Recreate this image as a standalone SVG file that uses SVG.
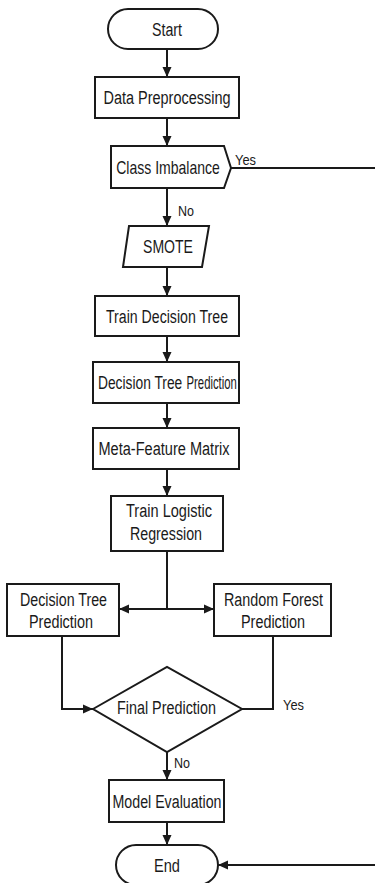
<svg xmlns="http://www.w3.org/2000/svg" width="375" height="883" viewBox="0 0 375 883">
<style>
.s{fill:#fff;stroke:#1a1a1a;stroke-width:2}
.t{font-family:"Liberation Sans",Arial,sans-serif;font-size:18px;fill:#1a1a1a;text-anchor:middle}
.ts{font-family:"Liberation Sans",Arial,sans-serif;font-size:18px;fill:#1a1a1a}
.l{font-family:"Liberation Sans",Arial,sans-serif;font-size:15px;fill:#1a1a1a}
.c{fill:none;stroke:#1a1a1a;stroke-width:2}
</style>
<defs>
<marker id="a" markerUnits="userSpaceOnUse" markerWidth="10" markerHeight="10" viewBox="0 0 10 10" refX="10" refY="5" orient="auto-start-reverse">
<path d="M0,0.5 L10,5 L0,9.5 Z" fill="#1a1a1a"/>
</marker>
</defs>
<rect width="375" height="883" fill="#fff"/>
<g id="connectors">
<line class="c" x1="167" y1="49" x2="167" y2="77" marker-end="url(#a)"/>
<line class="c" x1="167" y1="118" x2="167" y2="146" marker-end="url(#a)"/>
<line class="c" x1="167" y1="188" x2="167" y2="226" marker-end="url(#a)"/>
<line class="c" x1="167" y1="267" x2="167" y2="296" marker-end="url(#a)"/>
<line class="c" x1="167" y1="336" x2="167" y2="362" marker-end="url(#a)"/>
<line class="c" x1="167" y1="403" x2="167" y2="428" marker-end="url(#a)"/>
<line class="c" x1="167" y1="469" x2="167" y2="496" marker-end="url(#a)"/>
<line class="c" x1="167" y1="551" x2="167" y2="609"/>
<line class="c" x1="119" y1="609" x2="214" y2="609" marker-start="url(#a)" marker-end="url(#a)"/>
<polyline class="c" points="62,636 62,709 93,709" marker-end="url(#a)"/>
<polyline class="c" points="273,636 273,709 242,709"/>
<line class="c" x1="167" y1="752" x2="167" y2="780" marker-end="url(#a)"/>
<line class="c" x1="167" y1="822" x2="167" y2="845" marker-end="url(#a)"/>
<line class="c" x1="231" y1="168" x2="375" y2="168"/>
<line class="c" x1="375" y1="865" x2="218" y2="865" marker-end="url(#a)"/>
<text class="l" x="235" y="165" textLength="21" lengthAdjust="spacingAndGlyphs">Yes</text>
<text class="l" x="178" y="216" textLength="16" lengthAdjust="spacingAndGlyphs">No</text>
<text class="l" x="283" y="710" textLength="21" lengthAdjust="spacingAndGlyphs">Yes</text>
<text class="l" x="174" y="768" textLength="16" lengthAdjust="spacingAndGlyphs">No</text>
</g>
<g id="start">
<rect class="s" x="108" y="9" width="110" height="40" rx="20"/>
<text class="t" x="167" y="35.5" textLength="30" lengthAdjust="spacingAndGlyphs">Start</text>
</g>
<g id="data-preprocessing">
<rect class="s" x="95" y="77" width="144" height="41"/>
<text class="t" x="167" y="104" textLength="127" lengthAdjust="spacingAndGlyphs">Data Preprocessing</text>
</g>
<g id="class-imbalance">
<path class="s" d="M111,146 L224,146 L231,168 L224,188 L111,188 Z"/>
<text class="t" transform="translate(168,173.5) scale(0.78,1)">Class Imbalance</text>
</g>
<g id="smote">
<path class="s" d="M129,226 L209,226 L202,267 L123,267 Z"/>
<text class="t" x="168" y="253" textLength="50" lengthAdjust="spacingAndGlyphs">SMOTE</text>
</g>
<g id="train-decision-tree">
<rect class="s" x="95" y="296" width="144" height="40"/>
<text class="t" x="167" y="322.5" textLength="122" lengthAdjust="spacingAndGlyphs">Train Decision Tree</text>
</g>
<g id="decision-tree-prediction">
<rect class="s" x="93" y="362" width="146" height="41"/>
<text class="ts" transform="translate(98,389) scale(0.766,1)">Decision Tree</text>
<text class="ts" transform="translate(186.5,389) scale(0.63,1)">Prediction</text>
</g>
<g id="meta-feature-matrix">
<rect class="s" x="93" y="428" width="146" height="41"/>
<text class="t" x="164" y="455" textLength="131" lengthAdjust="spacingAndGlyphs">Meta-Feature Matrix</text>
</g>
<g id="train-logistic-regression">
<rect class="s" x="111" y="496" width="112" height="55"/>
<text class="t" x="169" y="517" textLength="86" lengthAdjust="spacingAndGlyphs">Train Logistic</text>
<text class="t" x="166" y="540" textLength="72" lengthAdjust="spacingAndGlyphs">Regression</text>
</g>
<g id="dt-prediction">
<rect class="s" x="7" y="584" width="112" height="52"/>
<text class="t" x="63.5" y="605.5" textLength="87" lengthAdjust="spacingAndGlyphs">Decision Tree</text>
<text class="t" x="61" y="628" textLength="64" lengthAdjust="spacingAndGlyphs">Prediction</text>
</g>
<g id="rf-prediction">
<rect class="s" x="214" y="584" width="117" height="52"/>
<text class="t" x="273.5" y="605.5" textLength="99" lengthAdjust="spacingAndGlyphs">Random Forest</text>
<text class="t" x="273" y="628" textLength="64" lengthAdjust="spacingAndGlyphs">Prediction</text>
</g>
<g id="final-prediction">
<path class="s" d="M93,709 L167,667 L242,709 L167,752 Z"/>
<text class="t" x="166.5" y="713.5" textLength="99" lengthAdjust="spacingAndGlyphs">Final Prediction</text>
</g>
<g id="model-evaluation">
<rect class="s" x="109" y="780" width="115" height="42"/>
<text class="t" x="167" y="808" textLength="109" lengthAdjust="spacingAndGlyphs">Model Evaluation</text>
</g>
<g id="end">
<rect class="s" x="116" y="845" width="102" height="40" rx="20"/>
<text class="t" x="167" y="872" textLength="26" lengthAdjust="spacingAndGlyphs">End</text>
</g>
</svg>
